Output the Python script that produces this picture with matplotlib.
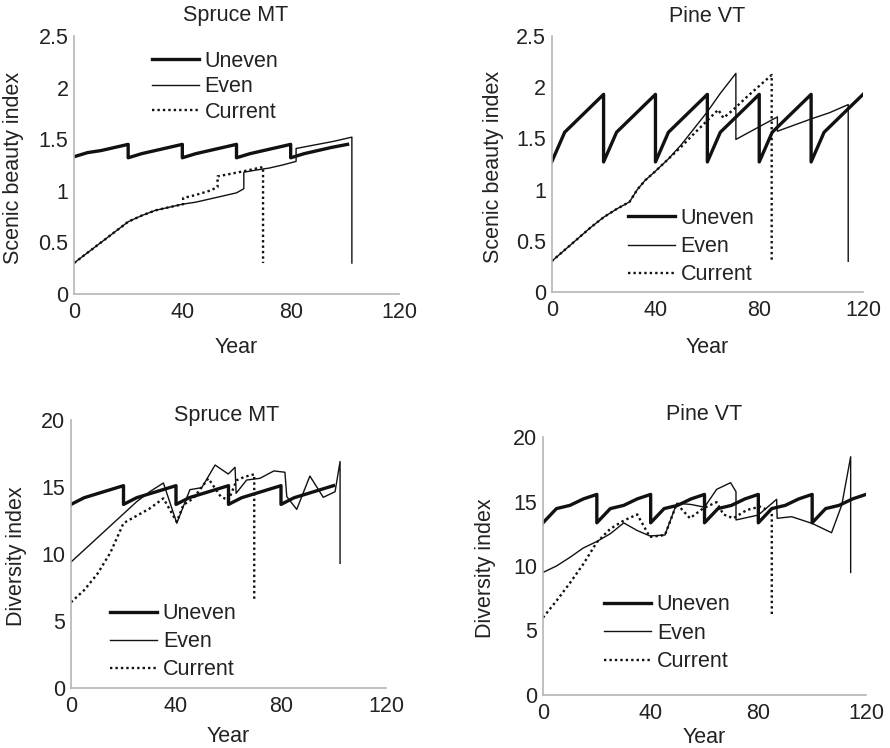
import matplotlib
matplotlib.use("Agg")
import matplotlib.pyplot as plt

plt.rcParams['font.family'] = ['Liberation Sans', 'DejaVu Sans']

# ---------------- data ----------------
years_ticks = [0, 40, 80, 120]
sb_ticks = [0, 0.5, 1, 1.5, 2, 2.5]
sb_tick_labels = ["0", "0.5", "1", "1.5", "2", "2.5"]
div_ticks = [0, 5, 10, 15, 20]
div_tick_labels = ["0", "5", "10", "15", "20"]
series_names = ["Uneven", "Even", "Current"]
titles = ["Spruce MT", "Pine VT", "Spruce MT", "Pine VT"]

# Scenic beauty, Spruce MT
sb_spruce_uneven_x = [0, 5, 10, 15, 20, 20, 25, 30, 35, 40, 40, 45, 50, 55, 60, 60, 65, 70, 75, 80, 80, 85, 90, 95, 101]
sb_spruce_uneven_y = [1.33, 1.37, 1.39, 1.42, 1.45, 1.32, 1.36, 1.39, 1.42, 1.45, 1.32, 1.36, 1.39, 1.42, 1.45,
                      1.32, 1.36, 1.39, 1.42, 1.45, 1.32, 1.36, 1.39, 1.42, 1.45]
sb_spruce_even_x = [0, 5, 10, 15, 20, 25, 30, 35, 40, 45, 50, 55, 60, 62.7, 62.7, 67, 72, 77, 82, 82, 90, 96, 102.6, 102.6]
sb_spruce_even_y = [0.30, 0.40, 0.50, 0.60, 0.70, 0.76, 0.81, 0.84, 0.87, 0.89, 0.92, 0.95, 0.98, 1.02, 1.18,
                    1.20, 1.22, 1.25, 1.285, 1.41, 1.45, 1.48, 1.52, 0.30]
sb_spruce_curr_x = [0, 5, 10, 15, 20, 25, 30, 35, 40.3, 40.3, 45, 50, 53, 53, 58, 62.7, 69.8, 69.8]
sb_spruce_curr_y = [0.30, 0.40, 0.50, 0.60, 0.70, 0.76, 0.81, 0.84, 0.87, 0.93, 0.96, 1.00, 1.035, 1.14,
                    1.165, 1.19, 1.23, 0.30]

# Scenic beauty, Pine VT
sb_pine_uneven_x = [0, 5, 20, 20, 25, 40, 40, 45, 60, 60, 65, 80, 80, 85, 100, 100, 105, 120]
sb_pine_uneven_y = [1.27, 1.56, 1.93, 1.27, 1.56, 1.93, 1.27, 1.56, 1.93, 1.27, 1.56, 1.93, 1.27, 1.56, 1.93,
                    1.27, 1.56, 1.93]
sb_pine_even_x = [0, 5, 10, 15, 20, 25, 30, 31, 33, 36, 40, 45, 50, 55, 60, 65, 71, 71, 87, 87, 100, 107, 114.3, 114.3]
sb_pine_even_y = [0.30, 0.41, 0.52, 0.63, 0.73, 0.81, 0.88, 0.92, 1.00, 1.09, 1.18, 1.30, 1.44, 1.60, 1.76,
                  1.94, 2.135, 1.49, 1.71, 1.57, 1.69, 1.75, 1.83, 0.30]
sb_pine_curr_x = [0, 5, 10, 15, 20, 25, 30, 31, 33, 36, 40, 45, 50, 55, 57, 61, 64.2, 66.2, 70, 75, 84.8, 84.8]
sb_pine_curr_y = [0.30, 0.41, 0.52, 0.63, 0.73, 0.81, 0.88, 0.92, 1.00, 1.09, 1.18, 1.30, 1.42, 1.55, 1.60,
                  1.70, 1.78, 1.70, 1.78, 1.90, 2.12, 0.30]

# Diversity, Spruce MT
div_spruce_uneven_x = [0, 5, 20, 20, 25, 40, 40, 45, 60, 60, 65, 80, 80, 85, 100]
div_spruce_uneven_y = [13.7, 14.2, 15.1, 13.7, 14.2, 15.1, 13.7, 14.2, 15.1, 13.7, 14.2, 15.1, 13.7, 14.2, 15.1]
div_spruce_even_x = [0, 5, 10, 15, 20, 25, 30, 35.2, 40.3, 45.3, 49.8, 54.9, 59.9, 62.5, 62.9, 66.9, 72,
                     77.3, 81.5, 82.2, 86, 91, 96.1, 100.6, 102.5, 102.5]
div_spruce_even_y = [9.4, 10.3, 11.2, 12.1, 13.0, 13.9, 14.65, 15.3, 12.3, 14.8, 14.95, 16.64, 15.97, 16.47,
                     14.53, 15.52, 15.65, 16.2, 16.1, 14.28, 13.33, 15.82, 14.23, 14.65, 16.9, 9.3]
div_spruce_curr_x = [0, 5, 10, 15, 20, 25, 30, 35.2, 40.3, 42.8, 46.6, 52.3, 57, 60, 63.1, 66, 69.8, 69.8]
div_spruce_curr_y = [6.4, 7.3, 8.5, 10.1, 12.3, 12.85, 13.4, 14.15, 12.4, 13.66, 14.15, 15.64, 14.3, 14.0,
                     15.5, 15.75, 15.95, 6.5]

# Diversity, Pine VT
div_pine_uneven_x = [0, 5, 10, 15, 20, 20, 25, 30, 35, 40, 40, 45, 50, 55, 60, 60, 65, 70, 75, 80, 80, 85, 90,
                     95, 100, 100, 105, 110, 115, 120]
div_pine_uneven_y = [13.35, 14.45, 14.7, 15.2, 15.55] * 6
div_pine_even_x = [0, 5, 10, 15, 20, 25, 30, 35, 39.7, 45.3, 49.7, 55, 60, 64.5, 69.7, 71.7, 71.7, 80, 86.8,
                   87, 92.4, 100, 107.2, 111, 114.3, 114.3]
div_pine_even_y = [9.5, 10.0, 10.67, 11.4, 11.9, 12.5, 13.34, 12.75, 12.33, 12.4, 14.86, 14.77, 14.56, 15.94,
                   16.46, 15.76, 13.57, 13.95, 15.17, 13.7, 13.82, 13.3, 12.58, 14.73, 18.47, 9.5]
div_pine_curr_x = [0, 5, 10, 15, 20, 25, 30, 35, 39.7, 45.3, 49.7, 54.6, 59.5, 64.5, 67, 70.7, 75.7, 80.6,
                   85, 85]
div_pine_curr_y = [6.0, 7.3, 8.68, 10.16, 11.84, 12.88, 13.52, 14.0, 12.25, 12.4, 14.82, 13.7, 14.47, 14.95,
                   14.0, 13.7, 14.34, 14.6, 14.2, 6.2]

# ---------------- figure ----------------
fig = plt.figure(figsize=(8.9, 7.48), dpi=100)
W, H = 890.0, 748.0

def add_axes_px(l, r, b, t):
    return fig.add_axes([l / W, 1 - b / H, (r - l) / W, (b - t) / H])

panels = [
    dict(box=(74, 399, 294, 36), data=[(sb_spruce_uneven_x, sb_spruce_uneven_y),
                                      (sb_spruce_even_x, sb_spruce_even_y),
                                      (sb_spruce_curr_x, sb_spruce_curr_y)],
         ylim=(0, 2.5), yt=sb_ticks, ytl=sb_tick_labels, ylabel="Scenic beauty index",
         leg=(0.24, 0.942), ls=0.2, title_xy=(236, 16), ylab_x=-0.154, xlab_y=-0.167),
    dict(box=(551.7, 863, 292, 36), data=[(sb_pine_uneven_x, sb_pine_uneven_y),
                                         (sb_pine_even_x, sb_pine_even_y),
                                         (sb_pine_curr_x, sb_pine_curr_y)],
         ylim=(0, 2.5), yt=sb_ticks, ytl=sb_tick_labels, ylabel="Scenic beauty index",
         leg=(0.245, 0.328), ls=0.33, title_xy=(707, 16), ylab_x=-0.153, xlab_y=-0.176),
    dict(box=(71, 386, 688, 420), data=[(div_spruce_uneven_x, div_spruce_uneven_y),
                                       (div_spruce_even_x, div_spruce_even_y),
                                       (div_spruce_curr_x, div_spruce_curr_y)],
         ylim=(0, 20), yt=div_ticks, ytl=div_tick_labels, ylabel="Diversity index",
         leg=(0.124, 0.317), ls=0.33, title_xy=(227, 415), ylab_x=-0.14, xlab_y=-0.14),
    dict(box=(543, 866, 695, 437), data=[(div_pine_uneven_x, div_pine_uneven_y),
                                        (div_pine_even_x, div_pine_even_y),
                                        (div_pine_curr_x, div_pine_curr_y)],
         ylim=(0, 20), yt=div_ticks, ytl=div_tick_labels, ylabel="Diversity index",
         leg=(0.189, 0.391), ls=0.35, title_xy=(704, 415), ylab_x=-0.146, xlab_y=-0.124),
]

styles = [dict(lw=2.4, ls='-', color='#111111'),
          dict(lw=1.0, ls='-', color='#111111'),
          dict(lw=1.7, ls=(0, (1, 1.3)), color='#111111')]

FS = 15.5
for i, p in enumerate(panels):
    ax = add_axes_px(*p['box'])
    for (xs, ys), st, name in zip(p['data'], styles, series_names):
        ax.plot(xs, ys, label=name, **st)
    ax.set_xlim(0, 120)
    ax.set_ylim(*p['ylim'])
    ax.set_xticks(years_ticks)
    ax.set_xticklabels([str(v) for v in years_ticks])
    ax.set_yticks(p['yt'])
    ax.set_yticklabels(p['ytl'])
    ax.tick_params(length=0, labelsize=FS, colors='#222222')
    ax.tick_params(axis='x', pad=6)
    ax.tick_params(axis='y', pad=4)
    for s in ['top', 'right']:
        ax.spines[s].set_visible(False)
    for s in ['left', 'bottom']:
        ax.spines[s].set_color('#b5b5b5')
        ax.spines[s].set_linewidth(1.2)
    ax.set_ylabel(p['ylabel'], fontsize=FS, color='#222222')
    ax.yaxis.set_label_coords(p['ylab_x'], 0.49)
    ax.set_xlabel("Year", fontsize=FS, color='#222222')
    ax.xaxis.set_label_coords(0.5, p['xlab_y'])
    fig.text(p['title_xy'][0] / W, 1 - p['title_xy'][1] / H, titles[i], fontsize=FS,
             ha='center', va='center', color='#222222')
    leg = ax.legend(loc='upper left', bbox_to_anchor=p['leg'], frameon=False, fontsize=FS,
                    handlelength=2.2, handletextpad=0.25, labelspacing=p['ls'],
                    borderpad=0, borderaxespad=0)
    for t in leg.get_texts():
        t.set_color('#222222')

fig.savefig("out.png", dpi=100)
